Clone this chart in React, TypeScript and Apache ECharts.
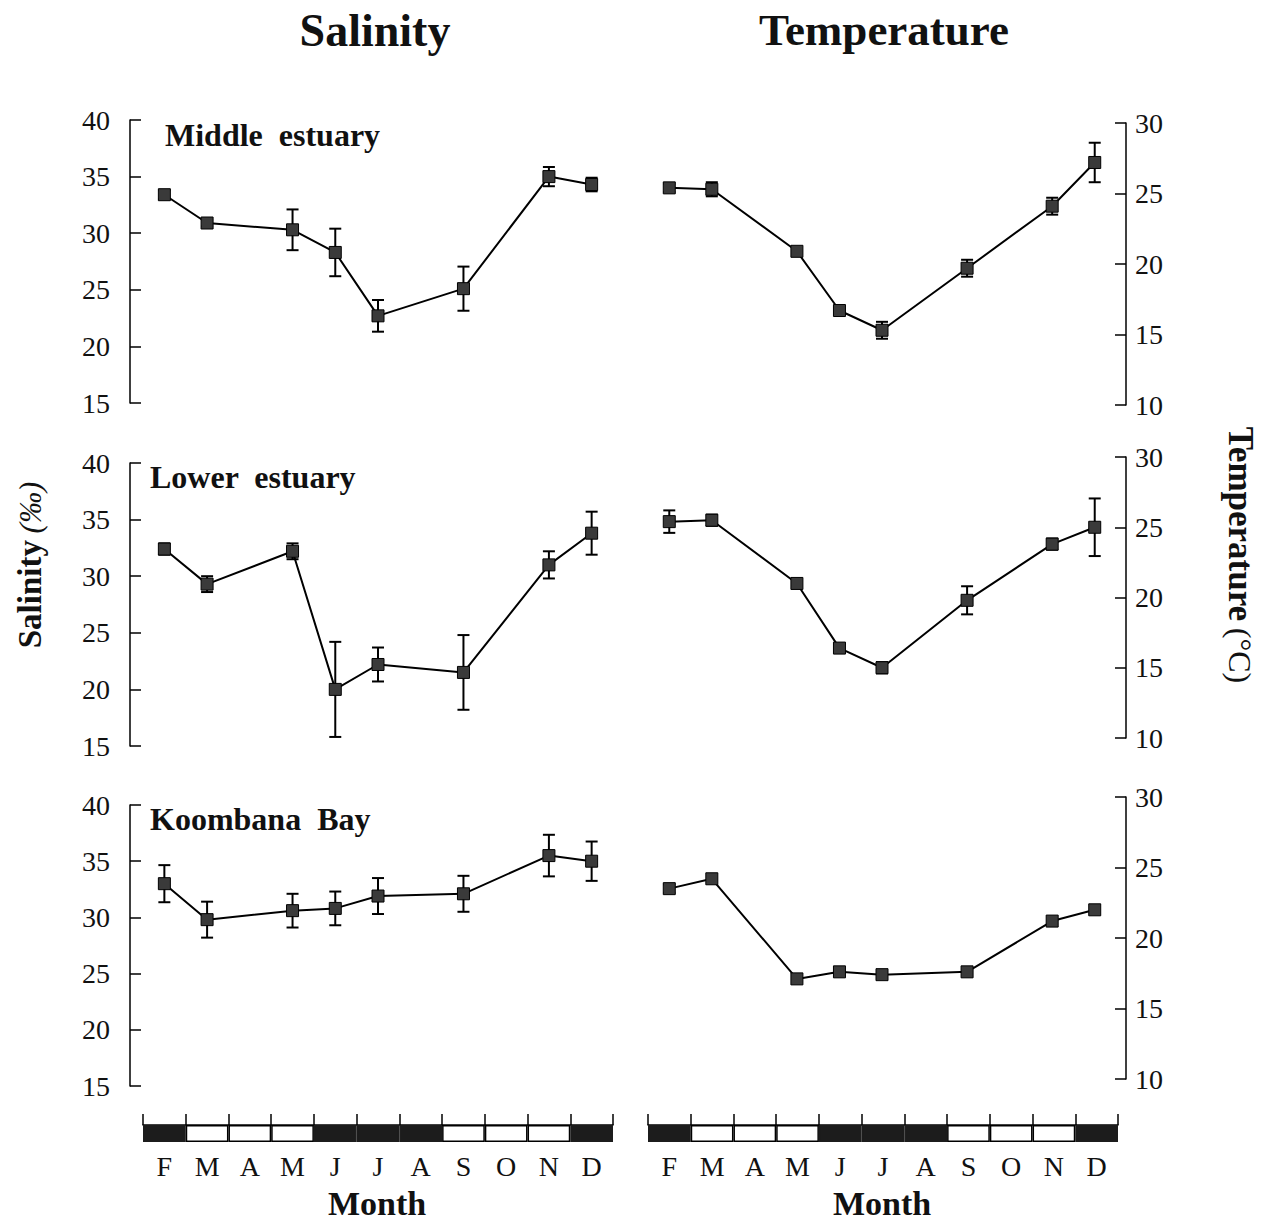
import React, { useEffect, useRef } from "react";
import * as echarts from "echarts";

const months = ["F", "M", "A", "M", "J", "J", "A", "S", "O", "N", "D"];
// true = dark season block (summer / winter)
const seasonDark = [true, false, false, false, true, true, true, false, false, false, true];

const salMiddle = [33.4, 30.9, null, 30.3, 28.3, 22.7, null, 25.1, null, 35.0, 34.3];
const salMiddleErr = [0.4, 0.3, null, 1.8, 2.1, 1.4, null, 1.95, null, 0.85, 0.6];

const salLower = [32.4, 29.3, null, 32.2, 20.0, 22.2, null, 21.5, null, 31.0, 33.8];
const salLowerErr = [0.5, 0.7, null, 0.7, 4.2, 1.5, null, 3.3, null, 1.2, 1.9];

const salBay = [33.0, 29.8, null, 30.6, 30.8, 31.9, null, 32.1, null, 35.5, 35.0];
const salBayErr = [1.65, 1.6, null, 1.5, 1.5, 1.6, null, 1.6, null, 1.85, 1.75];

const tempMiddle = [25.4, 25.3, null, 20.9, 16.7, 15.3, null, 19.7, null, 24.1, 27.2];
const tempMiddleErr = [0.3, 0.5, null, 0, 0, 0.6, null, 0.6, null, 0.6, 1.4];

const tempLower = [25.4, 25.5, null, 21.0, 16.4, 15.0, null, 19.8, null, 23.8, 25.0];
const tempLowerErr = [0.8, 0.4, null, 0, 0.3, 0.4, null, 1.0, null, 0.4, 2.05];

const tempBay = [23.5, 24.2, null, 17.1, 17.6, 17.4, null, 17.6, null, 21.2, 22.0];
const tempBayErr = [0.3, 0, null, 0, 0, 0, null, 0, null, 0, 0];

const panelNames = ["Middle  estuary", "Lower  estuary", "Koombana  Bay"];

const FONT = '"Liberation Serif", "Times New Roman", serif';
const INK = "#111";

export default function App() {
  const ref = useRef<HTMLDivElement>(null);

  useEffect(() => {
    if (!ref.current) return;
    const chart = echarts.init(ref.current, undefined, { renderer: "svg" });

    const leftGrids = [
      { top: 120, height: 283 },
      { top: 463, height: 283 },
      { top: 805, height: 281 },
    ];
    const rightGrids = [
      { top: 123, height: 282 },
      { top: 457, height: 281 },
      { top: 797, height: 282 },
    ];
    const L = { left: 143, width: 470 };
    const R = { left: 648, width: 468 };

    const grids: any[] = [];
    for (let r = 0; r < 3; r++) {
      grids.push({ left: L.left, width: L.width, top: leftGrids[r].top, height: leftGrids[r].height });
      grids.push({ left: R.left, width: R.width, top: rightGrids[r].top, height: rightGrids[r].height });
    }
    grids.push({ left: 143, width: 470, top: 1125, height: 17 });
    grids.push({ left: 648, width: 470, top: 1125, height: 17 });

    const xAxes: any[] = [];
    for (let g = 0; g < 6; g++) {
      xAxes.push({ type: "category", gridIndex: g, data: months, show: false, boundaryGap: true });
    }
    for (const g of [6, 7]) {
      xAxes.push({
        type: "category",
        gridIndex: g,
        data: months,
        position: "bottom",
        boundaryGap: true,
        axisLine: { show: false },
        axisTick: { show: false },
        axisLabel: { fontSize: 28, fontFamily: FONT, color: INK, margin: 10 },
      });
      xAxes.push({
        type: "category",
        gridIndex: g,
        data: months,
        position: "top",
        boundaryGap: true,
        axisLine: { show: true, lineStyle: { color: "#000", width: 1.5 } },
        axisTick: { show: true, inside: false, length: 11, lineStyle: { color: "#000", width: 1.5 } },
        axisLabel: { show: false },
      });
    }

    const yAxes: any[] = [];
    for (let r = 0; r < 3; r++) {
      yAxes.push({
        type: "value",
        gridIndex: 2 * r,
        position: "left",
        offset: 13,
        min: 15,
        max: 40,
        interval: 5,
        splitLine: { show: false },
        axisLine: { show: true, lineStyle: { color: "#000", width: 1.5 } },
        axisTick: { show: true, inside: true, length: 11, lineStyle: { color: "#000", width: 1.5 } },
        axisLabel: { fontSize: 28, fontFamily: FONT, color: INK, margin: 20 },
      });
      yAxes.push({
        type: "value",
        gridIndex: 2 * r + 1,
        position: "right",
        offset: 10,
        min: 10,
        max: 30,
        interval: 5,
        splitLine: { show: false },
        axisLine: { show: true, lineStyle: { color: "#000", width: 1.5 } },
        axisTick: { show: true, inside: true, length: 11, lineStyle: { color: "#000", width: 1.5 } },
        axisLabel: { fontSize: 28, fontFamily: FONT, color: INK, margin: 9 },
      });
    }
    yAxes.push({ type: "value", gridIndex: 6, min: 0, max: 1, show: false });
    yAxes.push({ type: "value", gridIndex: 7, min: 0, max: 1, show: false });

    const panels = [
      { vals: salMiddle, errs: salMiddleErr, idx: 0 },
      { vals: tempMiddle, errs: tempMiddleErr, idx: 1 },
      { vals: salLower, errs: salLowerErr, idx: 2 },
      { vals: tempLower, errs: tempLowerErr, idx: 3 },
      { vals: salBay, errs: salBayErr, idx: 4 },
      { vals: tempBay, errs: tempBayErr, idx: 5 },
    ];

    const series: any[] = [];
    panels.forEach((p) => {
      const errData: any[] = [];
      p.vals.forEach((v, i) => {
        const e = p.errs[i];
        if (v != null && e != null && e > 0) errData.push([i, v, e]);
      });
      series.push({
        type: "custom",
        xAxisIndex: p.idx,
        yAxisIndex: p.idx,
        z: 2,
        encode: { x: 0, y: 1 },
        data: errData,
        renderItem: (params: any, api: any) => {
          const x = api.value(0);
          const v = api.value(1);
          const e = api.value(2);
          const top = api.coord([x, v + e]);
          const bot = api.coord([x, v - e]);
          const hw = 6;
          const st = { stroke: "#000", lineWidth: 2 };
          return {
            type: "group",
            children: [
              { type: "line", shape: { x1: top[0], y1: top[1], x2: bot[0], y2: bot[1] }, style: st },
              { type: "line", shape: { x1: top[0] - hw, y1: top[1], x2: top[0] + hw, y2: top[1] }, style: st },
              { type: "line", shape: { x1: bot[0] - hw, y1: bot[1], x2: bot[0] + hw, y2: bot[1] }, style: st },
            ],
          };
        },
      });
      series.push({
        type: "line",
        xAxisIndex: p.idx,
        yAxisIndex: p.idx,
        z: 3,
        data: p.vals,
        connectNulls: true,
        symbol: "rect",
        symbolSize: 12,
        itemStyle: { color: "#3a3a3a", borderColor: "#000", borderWidth: 1 },
        lineStyle: { color: "#000", width: 2 },
      });
    });

    const barData = seasonDark.map((d) => ({
      value: 1,
      itemStyle: d ? { color: "#1c1c1c", borderColor: "#1c1c1c" } : { color: "#fff", borderColor: "#000" },
    }));
    [
      { x: 6, y: 6 },
      { x: 8, y: 7 },
    ].forEach((b) => {
      series.push({
        type: "bar",
        xAxisIndex: b.x,
        yAxisIndex: b.y,
        data: barData,
        barCategoryGap: "0%",
        itemStyle: { borderWidth: 1.5 },
      });
    });

    const textStyle = (size: number, bold: boolean) => ({
      fill: INK,
      fontSize: size,
      fontWeight: bold ? "bold" : "normal",
      fontFamily: FONT,
    });

    const graphic: any[] = [
      { type: "text", x: 375, y: 30, style: { text: "Salinity", ...textStyle(46, true), textAlign: "center", verticalAlign: "middle" } },
      { type: "text", x: 884, y: 30, style: { text: "Temperature", ...textStyle(45, true), textAlign: "center", verticalAlign: "middle" } },
      { type: "text", x: 165, y: 135, style: { text: panelNames[0], ...textStyle(32, true), textAlign: "left", verticalAlign: "middle" } },
      { type: "text", x: 150, y: 477, style: { text: panelNames[1], ...textStyle(32, true), textAlign: "left", verticalAlign: "middle" } },
      { type: "text", x: 150, y: 819, style: { text: panelNames[2], ...textStyle(32, true), textAlign: "left", verticalAlign: "middle" } },
      { type: "text", x: 377, y: 1203, style: { text: "Month", ...textStyle(34, true), textAlign: "center", verticalAlign: "middle" } },
      { type: "text", x: 882, y: 1203, style: { text: "Month", ...textStyle(34, true), textAlign: "center", verticalAlign: "middle" } },
      {
        type: "text",
        x: 30,
        y: 565,
        rotation: Math.PI / 2,
        style: {
          text: "{a|Salinity}  {b|(‰)}",
          textAlign: "center",
          verticalAlign: "middle",
          fill: INK,
          rich: {
            a: { fontSize: 33, fontWeight: "bold", fontFamily: FONT, fill: INK, color: INK },
            b: { fontSize: 31, fontWeight: "normal", fontStyle: "italic", fontFamily: FONT, fill: INK, color: INK },
          },
        },
      },
      {
        type: "text",
        x: 1240,
        y: 555,
        rotation: -Math.PI / 2,
        style: {
          text: "{a|Temperature}  {b|(°C)}",
          textAlign: "center",
          verticalAlign: "middle",
          fill: INK,
          rich: {
            a: { fontSize: 35, fontWeight: "bold", fontFamily: FONT, fill: INK, color: INK },
            b: { fontSize: 32, fontWeight: "normal", fontFamily: FONT, fill: INK, color: INK },
          },
        },
      },
    ];

    chart.setOption({
      animation: false,
      backgroundColor: "#fff",
      grid: grids,
      xAxis: xAxes,
      yAxis: yAxes,
      series,
      graphic,
    });

    return () => chart.dispose();
  }, []);

  return (
    <div
      ref={ref}
      style={{ position: "absolute", left: 0, top: 0, width: 1262, height: 1220, background: "#fff" }}
    />
  );
}
